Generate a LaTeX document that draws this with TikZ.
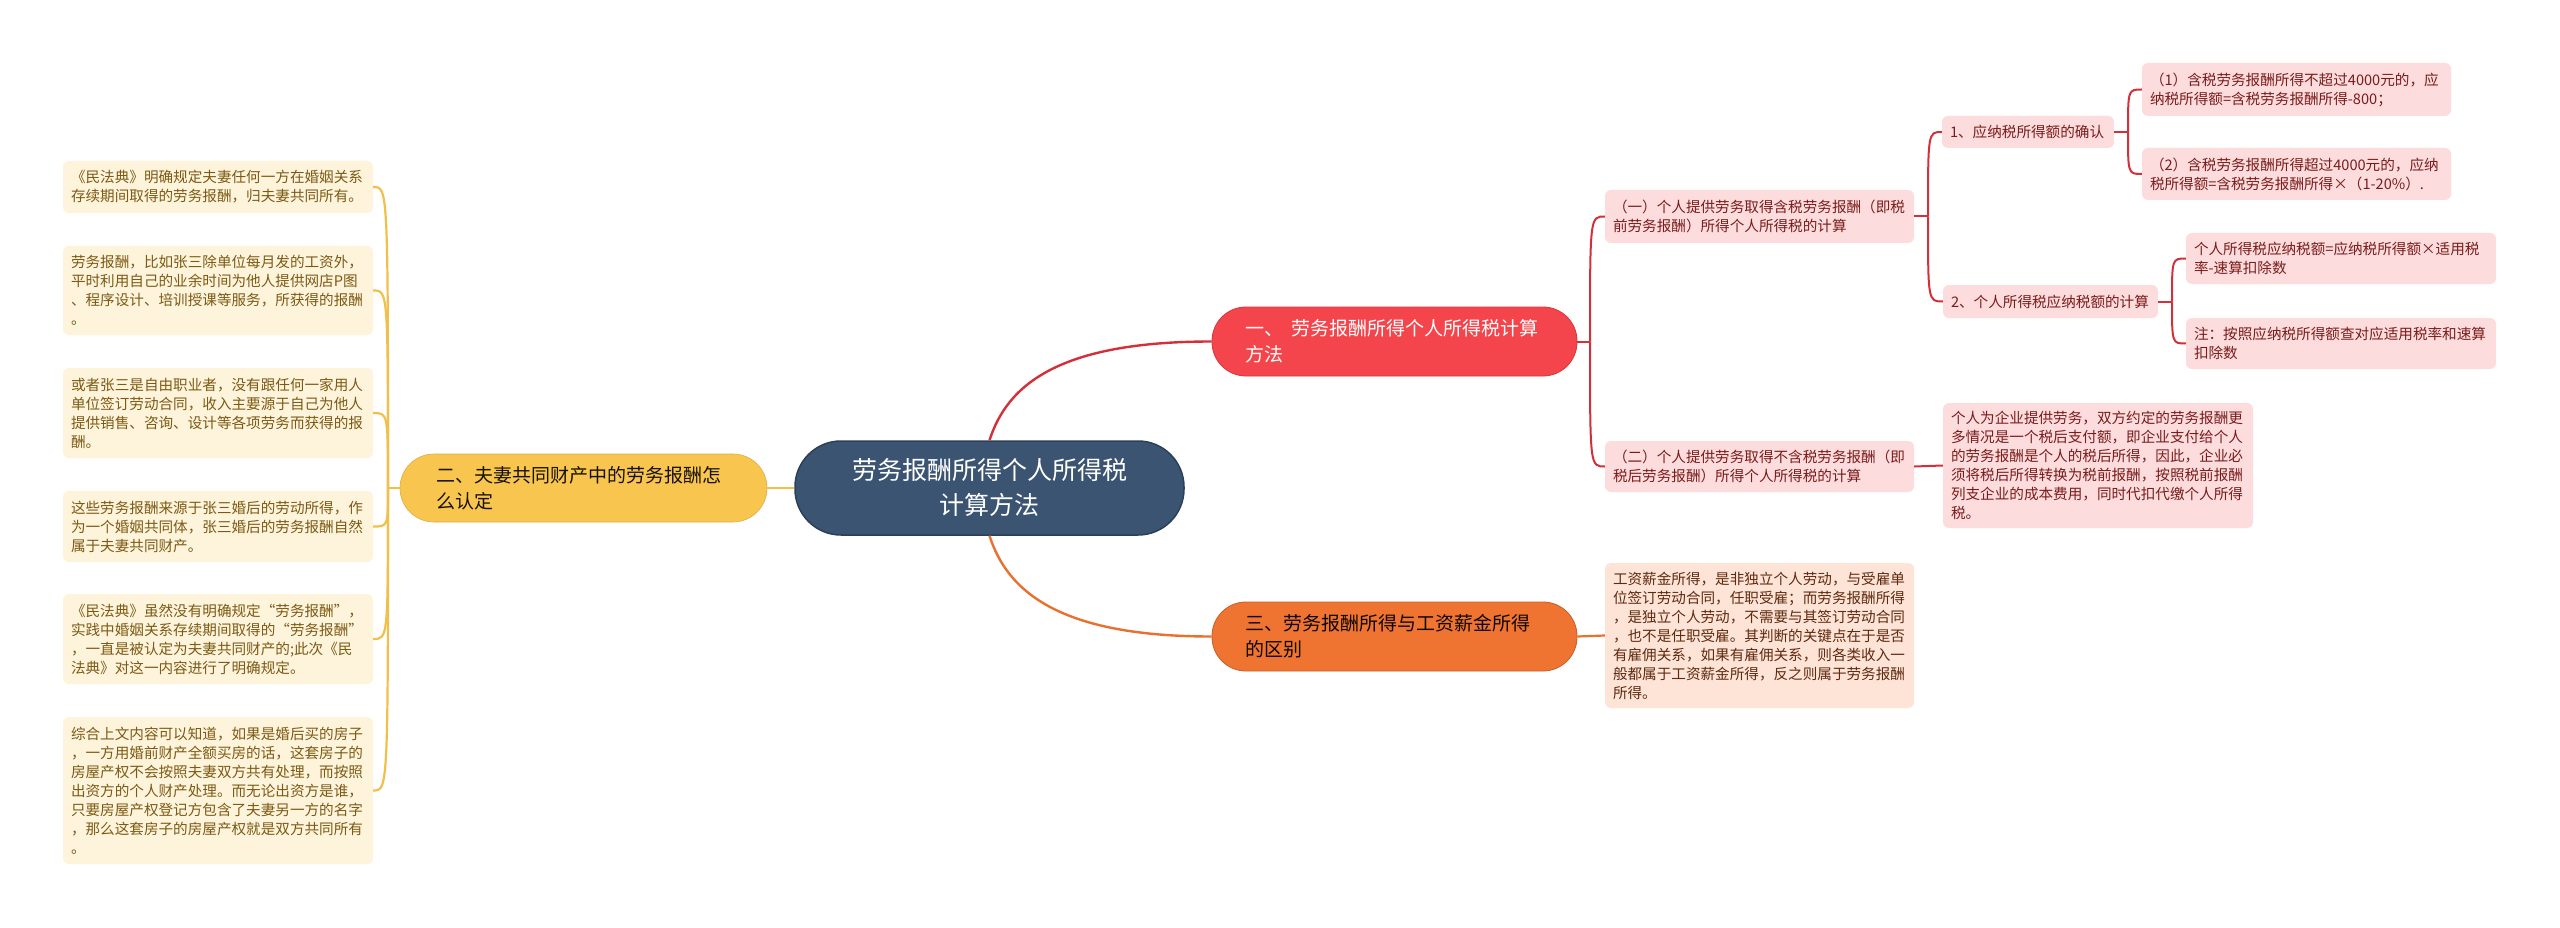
\documentclass[tikz,border=0pt]{standalone}
\usepackage{fontspec}
\setmainfont{Noto Sans CJK SC}
\definecolor{cfill}{HTML}{3A5472}
\definecolor{cdraw}{HTML}{2B4058}
\definecolor{rnode}{HTML}{F3454B}
\definecolor{rline}{HTML}{D2303A}
\definecolor{rfill}{HTML}{FCDCDC}
\definecolor{rtext}{HTML}{7A1C1C}
\definecolor{onode}{HTML}{F07431}
\definecolor{oline}{HTML}{E8712F}
\definecolor{ofill}{HTML}{FDE4D6}
\definecolor{otext}{HTML}{5E2A10}
\definecolor{ynode}{HTML}{F8C54F}
\definecolor{yline}{HTML}{F2C04A}
\definecolor{yfill}{HTML}{FEF4DC}
\definecolor{ytext}{HTML}{7B5A14}
\tikzset{
  lf/.style={rounded corners=6, inner xsep=8, inner ysep=0, align=left,
    font=\fontsize{14.6}{19}\selectfont},
  yleaf/.style={lf, fill=yfill, text=ytext, text width=294},
  rleaf/.style={lf, fill=rfill, text=rtext},
  oleaf/.style={lf, fill=ofill, text=otext, text width=293},
  branch/.style={rounded corners=34, inner ysep=0, align=left,
    font=\fontsize{19}{26}\selectfont, minimum height=69},
  ylink/.style={draw=yline, line width=2.2},
  rlink/.style={draw=rline, line width=2},
  olink/.style={draw=oline, line width=2.2},
}
\newcommand{\hook}[3]{\draw[#1] (#2) .. controls (#2 |- #3) and (#2 |- #3) .. (#3);}
\begin{document}
\begin{tikzpicture}[x=1pt, y=-1pt]
\path[use as bounding box, fill=white] (0,0) rectangle (2560,928);

% center
\node[fill=cfill, draw=cdraw, line width=1.5, rounded corners=46, minimum width=389,
  minimum height=94, inner sep=0, align=center, text=white,
  font=\fontsize{25}{35}\selectfont] (c) at (989.5,488) {劳务报酬所得个人所得税\\计算方法};

% branches
\node[branch, fill=rnode, draw=rline!80!rnode, line width=0.8, text=white, inner xsep=33, text width=299]
  (r) at (1394.5,341.5) {一、\hspace{0.45em}劳务报酬所得个人所得税计算\\方法};
\node[branch, fill=onode, draw=oline!85!black, line width=0.8, text=black!85!otext, inner xsep=33, text width=299]
  (o) at (1394.5,636.5) {三、劳务报酬所得与工资薪金所得\\的区别};
\node[branch, fill=ynode, draw=yline!90!black, line width=0.6, text=black!80!ytext, inner xsep=36, text width=295,
  minimum height=68] (yn) at (583.5,488) {二、夫妻共同财产中的劳务报酬怎\\么认定};

% red leaves
\node[rleaf, text width=293, minimum height=53] (l1) at (1759.5,216.5)
  {（一）个人提供劳务取得含税劳务报酬（即税\\前劳务报酬）所得个人所得税的计算};
\node[rleaf, text width=293, minimum height=51] (l2) at (1759.5,466.5)
  {（二）个人提供劳务取得不含税劳务报酬（即\\税后劳务报酬）所得个人所得税的计算};
\node[rleaf, text width=156, minimum height=32] (n1) at (2028,132) {1、应纳税所得额的确认};
\node[rleaf, text width=199, minimum height=33] (n2) at (2050.5,301.5) {2、个人所得税应纳税额的计算};
\node[rleaf, text width=293, minimum height=53] (p1) at (2296.5,89.5)
  {（1）含税劳务报酬所得不超过4000元的，应\\纳税所得额=含税劳务报酬所得-800；};
\node[rleaf, text width=293, minimum height=52] (p2) at (2296.5,174)
  {（2）含税劳务报酬所得超过4000元的，应纳\\税所得额=含税劳务报酬所得×（1-20\%）.};
\node[rleaf, text width=294, minimum height=51] (qa) at (2341,258.5)
  {个人所得税应纳税额=应纳税所得额×适用税\\率-速算扣除数};
\node[rleaf, text width=294, minimum height=51] (qb) at (2341,343.5)
  {注：按照应纳税所得额查对应适用税率和速算\\扣除数};
\node[rleaf, text width=294, minimum height=125] (cc) at (2098,465.5)
  {个人为企业提供劳务，双方约定的劳务报酬更\\多情况是一个税后支付额，即企业支付给个人\\的劳务报酬是个人的税后所得，因此，企业必\\须将税后所得转换为税前报酬，按照税前报酬\\列支企业的成本费用，同时代扣代缴个人所得\\税。};

% orange leaf
\node[oleaf, minimum height=145] (ol) at (1759.5,635.5)
  {工资薪金所得，是非独立个人劳动，与受雇单\\位签订劳动合同，任职受雇；而劳务报酬所得\\，是独立个人劳动，不需要与其签订劳动合同\\，也不是任职受雇。其判断的关键点在于是否\\有雇佣关系，如果有雇佣关系，则各类收入一\\般都属于工资薪金所得，反之则属于劳务报酬\\所得。};

% yellow leaves
\node[yleaf, minimum height=52] (y1) at (218,187)
  {《民法典》明确规定夫妻任何一方在婚姻关系\\存续期间取得的劳务报酬，归夫妻共同所有。};
\node[yleaf, minimum height=89] (y2) at (218,290.5)
  {劳务报酬，比如张三除单位每月发的工资外，\\平时利用自己的业余时间为他人提供网店P图\\、程序设计、培训授课等服务，所获得的报酬\\。};
\node[yleaf, minimum height=90] (y3) at (218,413)
  {或者张三是自由职业者，没有跟任何一家用人\\单位签订劳动合同，收入主要源于自己为他人\\提供销售、咨询、设计等各项劳务而获得的报\\酬。};
\node[yleaf, minimum height=71] (y4) at (218,526.5)
  {这些劳务报酬来源于张三婚后的劳动所得，作\\为一个婚姻共同体，张三婚后的劳务报酬自然\\属于夫妻共同财产。};
\node[yleaf, minimum height=90] (y5) at (218,639)
  {《民法典》虽然没有明确规定“劳务报酬”，\\实践中婚姻关系存续期间取得的“劳务报酬”\\，一直是被认定为夫妻共同财产的;此次《民\\法典》对这一内容进行了明确规定。};
\node[yleaf, minimum height=147] (y6) at (218,790.5)
  {综合上文内容可以知道，如果是婚后买的房子\\，一方用婚前财产全额买房的话，这套房子的\\房屋产权不会按照夫妻双方共有处理，而按照\\出资方的个人财产处理。而无论出资方是谁，\\只要房屋产权登记方包含了夫妻另一方的名字\\，那么这套房子的房屋产权就是双方共同所有\\。};

% spine coordinates
\coordinate (ys) at (388,488);
\coordinate (rs) at (1590,341.5);
\coordinate (s1) at (1928,216.5);
\coordinate (s2) at (2128,132);
\coordinate (s3) at (2172,301.5);

% main connectors
\draw[rlink, line width=2.4] (c.north) .. controls +(18,-56) and +(-152,0) .. (r.west);
\draw[olink, line width=2.4] (c.south) .. controls +(18,56) and +(-152,0) .. (o.west);
\draw[ylink, line width=2.6] (c.west) -- (yn.east);

% yellow tree
\draw[ylink] (yn.west) -- (ys);
\hook{ylink}{ys}{y1.east}
\hook{ylink}{ys}{y2.east}
\hook{ylink}{ys}{y3.east}
\hook{ylink}{ys}{y4.east}
\hook{ylink}{ys}{y5.east}
\hook{ylink}{ys}{y6.east}

% red tree
\draw[rlink] (r.east) -- (rs);
\hook{rlink}{rs}{l1.west}
\hook{rlink}{rs}{l2.west}
\draw[rlink] (l1.east) -- (s1);
\hook{rlink}{s1}{n1.west}
\hook{rlink}{s1}{n2.west}
\draw[rlink] (n1.east) -- (s2);
\hook{rlink}{s2}{p1.west}
\hook{rlink}{s2}{p2.west}
\draw[rlink] (n2.east) -- (s3);
\hook{rlink}{s3}{qa.west}
\hook{rlink}{s3}{qb.west}
\draw[rlink] (l2.east) -- (cc.west);

% orange tree
\draw[olink] (o.east) -- (ol.west);
\end{tikzpicture}
\end{document}
